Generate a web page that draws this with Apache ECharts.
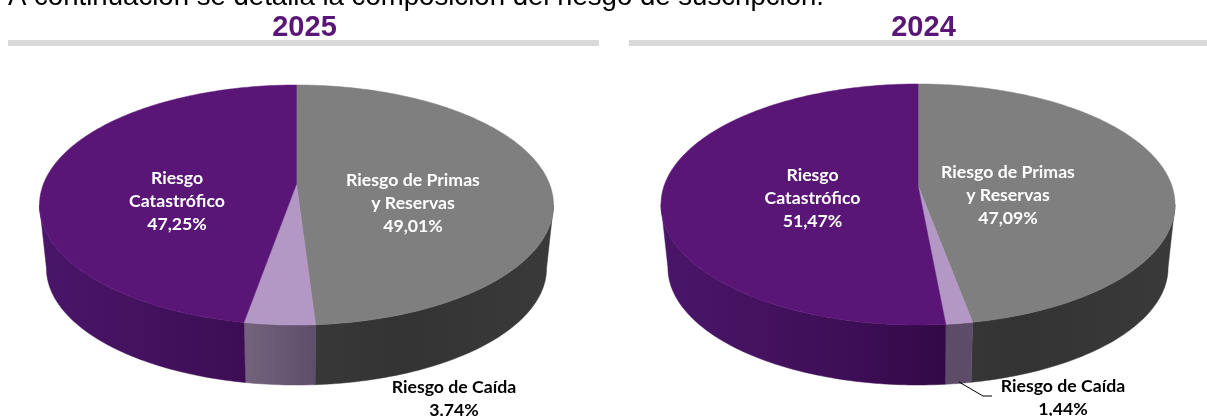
<!DOCTYPE html>
<html>
<head>
<meta charset="utf-8">
<style>html,body{margin:0;padding:0;background:#fff;overflow:hidden}#chart{width:1207px;height:416px}</style>
<script src="https://cdn.jsdelivr.net/npm/echarts@6/dist/echarts.min.js"></script>
</head>
<body>
<div id="chart"></div>
<script>
// Composition of underwriting risk, by year
const riskNames = ['Riesgo de Primas\ny Reservas', 'Riesgo de Caída', 'Riesgo\nCatastrófico'];
const shares2025 = [49.01, 3.74, 47.25];
const shares2024 = [47.09, 1.44, 51.47];
const valueLabels2025 = ['49,01%', '3.74%', '47,25%'];
const valueLabels2024 = ['47,09%', '1,44%', '51,47%'];
const introLine = 'A continuación se detalla la composición del riesgo de suscripción.';

// Colours of the slice tops and of the shaded side walls (stops run left to right across the pie)
const PURPLE = '#5a1677';
const topColors = ['#7f7f7f', '#b397c5', PURPLE];
const wallStops = [
  [[0.5, '#393939'], [0.7, '#333333'], [1, '#3a3a3a']],
  [[0.38, '#76657f'], [0.55, '#5c4c68'], [0.62, '#5e4d69']],
  [[0, '#4a1569'], [0.2, '#44125f'], [0.4, '#3c0d54'], [0.56, '#320945']]
];

// Pie geometry in pixels: apex, semi-width, reach above and below the apex, wall height
const pie2025 = { cx: 296.5, cy: 184, rx: 257, up: 99, down: 141, bottom: 385, wallScale: 0.973 };
const pie2024 = { cx: 918, cy: 185.5, rx: 257, up: 101.5, down: 139.5, bottom: 385, wallScale: 0.973 };

const tilt = pie => (pie.down - pie.up) / (pie.down + pie.up);

// Perspective projection of a point on the pie rim; theta runs clockwise from 12 o'clock
function project(pie, theta, onBase) {
  const c = tilt(pie);
  const k = pie.down * (1 - c);
  const K = pie.rx * Math.sqrt(1 - c * c);
  const X = Math.sin(theta), Y = -Math.cos(theta), d = 1 - c * Y;
  const x = K * X / d, y = k * Y / d;
  if (!onBase) return [pie.cx + x, pie.cy + y];
  const s = pie.wallScale, drop = pie.bottom - pie.cy - pie.down * s;
  return [pie.cx + x * s, pie.cy + y * s + drop];
}

function arc(pie, a0, a1, onBase) {
  const n = Math.max(2, Math.ceil(Math.abs(a1 - a0) / (Math.PI / 180)));
  const pts = [];
  for (let i = 0; i <= n; i++) pts.push(project(pie, a0 + (a1 - a0) * i / n, onBase));
  return pts;
}

const sliceRows = shares => {
  let acc = 0;
  return shares.map((v, i) => { const row = [acc, v, i]; acc += v; return row; });
};

function renderTop(pie) {
  return (params, api) => {
    const a0 = api.value(0) / 100 * 2 * Math.PI;
    const a1 = (api.value(0) + api.value(1)) / 100 * 2 * Math.PI;
    const col = topColors[api.value(2)];
    return {
      type: 'polygon',
      shape: { points: [[pie.cx, pie.cy]].concat(arc(pie, a0, a1, false)) },
      style: { fill: col, stroke: col, lineWidth: 0.5 }
    };
  };
}

// The wall runs between the rim's left and right extremes; the rest lies behind the top face
function renderWall(pie) {
  const from = Math.acos(-tilt(pie)), to = 2 * Math.PI - from;
  return (params, api) => {
    const a0 = Math.max(api.value(0) / 100 * 2 * Math.PI, from);
    const a1 = Math.min((api.value(0) + api.value(1)) / 100 * 2 * Math.PI, to);
    if (a1 <= a0) return null;
    const stops = wallStops[api.value(2)].map(s => ({ offset: s[0], color: s[1] }));
    const fill = new echarts.graphic.LinearGradient(pie.cx - pie.rx, 0, pie.cx + pie.rx, 0, stops, true);
    return {
      type: 'polygon',
      shape: { points: arc(pie, a0, a1, false).concat(arc(pie, a0, a1, true).reverse()) },
      style: { fill: fill, stroke: fill, lineWidth: 0.5 }
    };
  };
}

const pieSeries = (pie, shares, z) => [
  { type: 'custom', coordinateSystem: 'none', silent: true, animation: false, z: z,
    renderItem: renderWall(pie), data: sliceRows(shares) },
  { type: 'custom', coordinateSystem: 'none', silent: true, animation: false, z: z + 1,
    renderItem: renderTop(pie), data: sliceRows(shares) }
];

const calloutText = (x, y, text, fill) => ({
  type: 'text', x: x, y: y, z: 10,
  style: { text: text, fill: fill, align: 'center', verticalAlign: 'middle',
           font: 'bold 17.7px Lato, "Open Sans", sans-serif', lineHeight: 23.2 }
});

const yearTitle = (text, left) => ({
  text: text, left: left, top: 8, textAlign: 'center',
  textStyle: { color: PURPLE, fontFamily: '"Liberation Sans"', fontWeight: 'bold', fontSize: 29 }
});

const chart = echarts.init(document.getElementById('chart'), null, { renderer: 'canvas' });
chart.setOption({
  backgroundColor: '#ffffff',
  animation: false,
  title: [yearTitle('2025', 299.5), yearTitle('2024', 918.5)],
  series: [...pieSeries(pie2025, shares2025, 2), ...pieSeries(pie2024, shares2024, 5)],
  graphic: [
    { type: 'text', x: 8, y: -17, style: { text: introLine, fill: '#000', font: '27.6px "Liberation Sans"', verticalAlign: 'top' } },
    { type: 'rect', shape: { x: 8, y: 40, width: 591, height: 6 }, style: { fill: '#d9d9d9' } },
    { type: 'rect', shape: { x: 629, y: 40, width: 578, height: 6 }, style: { fill: '#d9d9d9' } },

    calloutText(177, 201, riskNames[2] + '\n' + valueLabels2025[2], '#fff'),
    calloutText(413, 203, riskNames[0] + '\n' + valueLabels2025[0], '#fff'),
    calloutText(454, 399, riskNames[1] + '\n' + valueLabels2025[1], '#000'),

    calloutText(812.5, 198, riskNames[2] + '\n' + valueLabels2024[2], '#fff'),
    calloutText(1008, 195, riskNames[0] + '\n' + valueLabels2024[0], '#fff'),
    calloutText(1063, 398, riskNames[1] + '\n' + valueLabels2024[1], '#000'),

    { type: 'polyline', z: 10, shape: { points: [[959, 382], [983, 396], [992, 396]] },
      style: { stroke: '#000', lineWidth: 1, fill: null } }
  ]
});
</script>
</body>
</html>
